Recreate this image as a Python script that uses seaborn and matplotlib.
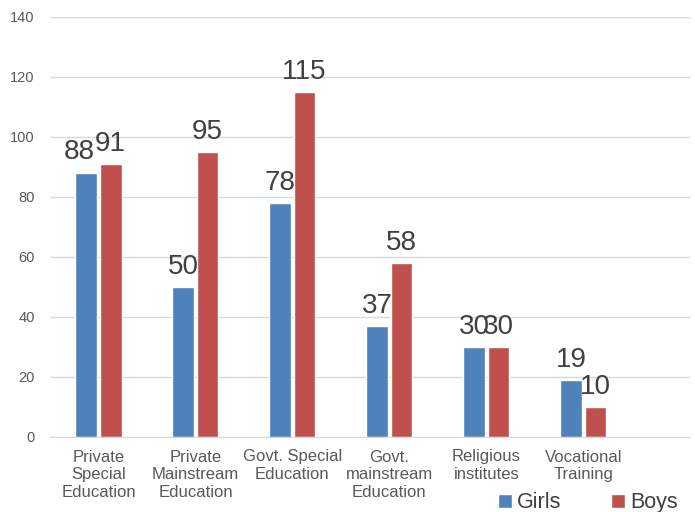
import matplotlib
matplotlib.use("Agg")
import matplotlib.pyplot as plt
import numpy as np
import pandas as pd
import seaborn as sns
from matplotlib.patches import Patch

categories = [
    "Private\nSpecial\nEducation",
    "Private\nMainstream\nEducation",
    "Govt. Special\nEducation",
    "Govt.\nmainstream\nEducation",
    "Religious\ninstitutes",
    "Vocational\nTraining",
]
girls = [88, 50, 78, 37, 30, 19]
boys = [91, 95, 115, 58, 30, 10]
groups = ["Girls", "Boys"]
colors = ["#4F81BD", "#C0504D"]

df = pd.DataFrame({
    "Category": categories * 2,
    "Group": ["Girls"] * len(categories) + ["Boys"] * len(categories),
    "Count": girls + boys,
})

sns.set_style("white")
plt.rcParams["font.family"] = ["Liberation Sans", "DejaVu Sans"]

fig = plt.figure(figsize=(6.95, 5.12), dpi=100)
ax = fig.add_axes([50 / 695, 1 - 437 / 512, 640 / 695, 420 / 512])

sns.barplot(
    data=df, x="Category", y="Count", hue="Group",
    hue_order=groups, palette=colors,
    width=0.5, gap=0.1, saturation=1, legend=False, ax=ax,
)

label_sets = []
for cont in ax.containers:
    label_sets.append(ax.bar_label(cont, padding=5, fontsize=20, color="#404040"))
# the first girls label sits a little to the left in the original
label_sets[0][0].xyann = (-5, 6)

ax.set_ylim(0, 140)
ax.set_xlim(-0.5, 6.1)
ax.set_yticks(np.arange(0, 141, 20))
ax.yaxis.grid(True, color="#D9D9D9", linewidth=1)
ax.set_axisbelow(True)
for s in ["top", "right", "left"]:
    ax.spines[s].set_visible(False)
ax.spines["bottom"].set_color("#D9D9D9")
ax.tick_params(axis="y", length=0, labelsize=10.5, labelcolor="#595959", pad=11)
ax.tick_params(axis="x", length=0, labelsize=12, labelcolor="#595959", pad=9)
for lab in ax.get_xticklabels():
    lab.set_linespacing(1.22)
ax.set_xlabel("")
ax.set_ylabel("")

handles = [Patch(facecolor=c, label=g) for g, c in zip(groups, colors)]
fig.legend(
    handles=handles, loc="center left", bbox_to_anchor=(498 / 695, 0.018),
    ncol=2, frameon=False, fontsize=15.5, labelcolor="#404040",
    handlelength=0.65, handleheight=0.65, handletextpad=0.25,
    columnspacing=2.3, borderpad=0, borderaxespad=0,
)

fig.savefig("out.png", dpi=100)
